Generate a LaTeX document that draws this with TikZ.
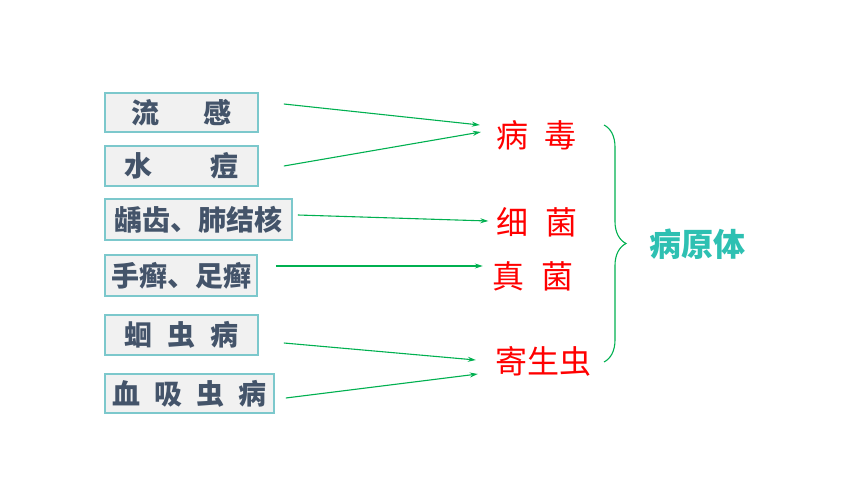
\documentclass[tikz,border=0pt]{standalone}
\usepackage{fontspec}
\setmainfont{Noto Sans CJK SC}
\usetikzlibrary{arrows.meta,decorations.pathreplacing}

\definecolor{boxline}{RGB}{124,200,204}
\definecolor{boxfill}{RGB}{241,241,241}
\definecolor{boxtext}{RGB}{68,84,106}
\definecolor{arrgreen}{RGB}{0,176,80}
\definecolor{teal}{RGB}{46,192,178}

\tikzset{
    disease/.style={draw=boxline, line width=1.8pt, fill=boxfill, text=boxtext,
        font=\fontsize{28}{30}\selectfont\bfseries, inner sep=0pt},
    germ/.style={text=red, font=\fontsize{32}{34}\selectfont, inner sep=0pt},
    arr/.style={arrgreen, line width=1.1pt, -{Stealth[length=8pt,width=5pt]}}
}

\begin{document}
\begin{tikzpicture}[x=1pt,y=-1pt]
    \useasboundingbox (0,0) rectangle (860,484);

    % diseases
    \node[disease, minimum width=153pt, minimum height=39pt] (flu)        at (181.5,112.5) {流\hspace{44pt}感};
    \node[disease, minimum width=153pt, minimum height=40pt] (chickenpox) at (181.5,166)   {水\hspace{59pt}痘};
    \node[disease, minimum width=187pt, minimum height=41pt] (caries)     at (198.5,219.5) {龋齿、肺结核};
    \node[disease, minimum width=152pt, minimum height=41pt] (tinea)      at (181,275.5)   {手癣、足癣};
    \node[disease, minimum width=153pt, minimum height=40pt] (ascaris)    at (181.5,335)   {蛔\hspace{15pt}虫\hspace{15pt}病};
    \node[disease, minimum width=169pt, minimum height=39pt] (schisto)    at (189.5,393.5) {血\hspace{14pt}吸\hspace{14pt}虫\hspace{14pt}病};

    % germs
    \node[germ] (virus)    at (536,135) {病\hspace{16pt}毒};
    \node[germ] (bacteria) at (537,222) {细\hspace{17pt}菌};
    \node[germ] (fungus)   at (533,276) {真\hspace{18pt}菌};
    \node[germ] (parasite) at (543,361) {寄生虫};

    \node[text=teal, font=\fontsize{32}{34}\selectfont\bfseries, inner sep=0pt] (pathogen) at (697.5,244) {病原体};

    % connectors
    \draw[arr] ([shift={(25pt,8.5pt)}]flu.east)      -- ([shift={(-16pt,10pt)}]virus.west);
    \draw[arr] ([shift={(25pt,0pt)}]chickenpox.east) -- ([shift={(-15pt,3pt)}]virus.west);
    \draw[arr] ([shift={(5pt,4.5pt)}]caries.east)    -- ([shift={(-8pt,1pt)}]bacteria.west);
    \draw[arr] ([shift={(18pt,9.5pt)}]tinea.east)    -- ([shift={(-9pt,10pt)}]fungus.west);
    \draw[arr] ([shift={(25pt,-8pt)}]ascaris.east)   -- ([shift={(-19pt,1pt)}]parasite.west);
    \draw[arr] ([shift={(11pt,-4.5pt)}]schisto.east) -- ([shift={(-17pt,-13pt)}]parasite.west);

    % brace
    \draw[arrgreen, line width=1.1pt, decorate, decoration={brace, amplitude=22pt}]
        (604,125) -- (604,362);
\end{tikzpicture}
\end{document}
